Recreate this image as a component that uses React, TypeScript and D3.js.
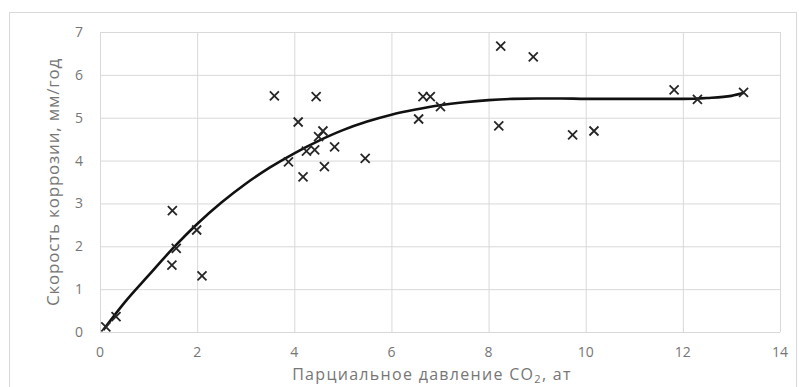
import React from "react";
import * as d3 from "d3";

// Measured points: partial CO2 pressure (at) vs corrosion rate (mm/yr)
const pressure = [
  0.12, 0.33, 1.49, 1.99, 1.57, 1.48, 2.1,
  3.59, 4.45, 4.08, 4.59, 4.5, 4.83, 4.25, 4.42, 3.88, 5.46, 4.62, 4.18,
  8.25, 8.92, 6.65, 6.8, 7.01, 6.56, 8.21, 9.73,
  10.17, 11.82, 12.3, 13.25,
];
const corrosionRate = [
  0.12, 0.36, 2.83, 2.38, 1.95, 1.56, 1.31,
  5.51, 5.49, 4.9, 4.69, 4.56, 4.32, 4.22, 4.25, 3.97, 4.05, 3.86, 3.62,
  6.67, 6.42, 5.49, 5.49, 5.26, 4.97, 4.81, 4.6,
  4.69, 5.65, 5.43, 5.59,
];

// Trend curve read along its path
const trendX = [
  0.07, 0.5, 1.0, 1.5, 2.0, 2.5, 3.0, 3.5, 4.0, 4.5, 5.0, 5.5, 6.0, 6.5,
  7.0, 7.5, 8.0, 8.5, 9.0, 9.5, 10.0, 11.0, 12.0, 12.5, 13.0, 13.26,
];
const trendY = [
  0.05, 0.68, 1.32, 1.95, 2.52, 3.02, 3.46, 3.84, 4.17, 4.46, 4.71, 4.91, 5.07, 5.19,
  5.29, 5.36, 5.41, 5.44, 5.45, 5.45, 5.44, 5.44, 5.44, 5.46, 5.51, 5.58,
];

const xTicks = [0, 2, 4, 6, 8, 10, 12, 14];
const yTicks = [0, 1, 2, 3, 4, 5, 6, 7];

const W = 799;
const H = 387;
const plot = { left: 100, right: 780, top: 32, bottom: 332 };
const FONT = "'Open Sans', 'Liberation Sans', sans-serif";
const TEXT = "#767676";

export default function App() {
  const x = d3.scaleLinear().domain([0, 14]).range([plot.left, plot.right]);
  const y = d3.scaleLinear().domain([0, 7]).range([plot.bottom, plot.top]);

  const trend = trendX.map((v, i) => [v, trendY[i]] as [number, number]);
  const linePath =
    d3
      .line<[number, number]>()
      .x((d) => x(d[0]))
      .y((d) => y(d[1]))
      .curve(d3.curveMonotoneX)(trend) || "";

  const s = 4.5;

  return (
    <svg
      width={W}
      height={H}
      style={{ position: "absolute", left: 0, top: 0, background: "#fff" }}
    >
      <rect x={9.5} y={12.5} width={787} height={400} fill="#fff" stroke="#d9d9d9" />

      {/* gridlines */}
      {yTicks.map((t) => (
        <line
          key={"gy" + t}
          x1={plot.left}
          x2={plot.right}
          y1={y(t) + 0.5}
          y2={y(t) + 0.5}
          stroke="#d9d9d9"
          strokeWidth={1}
        />
      ))}
      {xTicks.map((t) => (
        <line
          key={"gx" + t}
          x1={x(t) + 0.5}
          x2={x(t) + 0.5}
          y1={plot.top}
          y2={plot.bottom}
          stroke="#d9d9d9"
          strokeWidth={1}
        />
      ))}

      {/* tick labels */}
      {yTicks.map((t) => (
        <text
          key={"ty" + t}
          x={83}
          y={y(t) + 5}
          textAnchor="end"
          fontFamily={FONT}
          fontSize={14}
          fill={TEXT}
        >
          {t}
        </text>
      ))}
      {xTicks.map((t) => (
        <text
          key={"tx" + t}
          x={x(t)}
          y={357}
          textAnchor="middle"
          fontFamily={FONT}
          fontSize={14}
          fill={TEXT}
        >
          {t}
        </text>
      ))}

      {/* axis titles */}
      <text
        transform={`translate(59, ${(plot.top + plot.bottom) / 2}) rotate(-90)`}
        textAnchor="middle"
        fontFamily={FONT}
        fontSize={17}
        letterSpacing={0.8}
        fill={TEXT}
      >
        Скорость коррозии, мм/год
      </text>
      <text
        x={432}
        y={380}
        textAnchor="middle"
        fontFamily={FONT}
        fontSize={16}
        letterSpacing={1.3}
        fill={TEXT}
      >
        Парциальное давление CO
        <tspan fontSize={11} dy={3}>
          2
        </tspan>
        <tspan dy={-3}>, ат</tspan>
      </text>

      {/* trend curve */}
      <path d={linePath} fill="none" stroke="#111" strokeWidth={2.6} strokeLinejoin="round" />

      {/* data markers */}
      {pressure.map((p, i) => {
        const cx = x(p);
        const cy = y(corrosionRate[i]);
        return (
          <path
            key={"m" + i}
            d={`M${cx - s},${cy - s}L${cx + s},${cy + s}M${cx - s},${cy + s}L${cx + s},${cy - s}`}
            stroke="#262626"
            strokeWidth={1.8}
            fill="none"
          />
        );
      })}
    </svg>
  );
}
